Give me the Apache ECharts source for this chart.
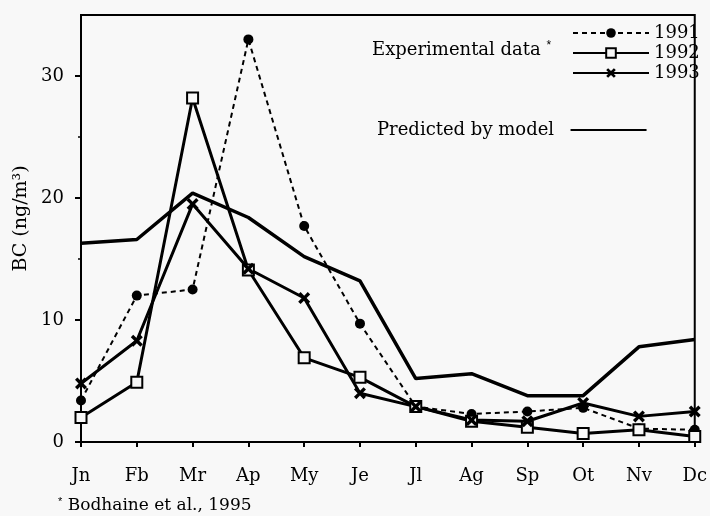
<!DOCTYPE html>
<html>
<head>
<meta charset="utf-8">
<script src="https://cdn.jsdelivr.net/npm/echarts@6/dist/echarts.min.js"></script>
<style>
  html, body { margin: 0; padding: 0; background: #f8f8f8; }
  #chart { width: 710px; height: 516px; }
</style>
</head>
<body>
<div id="chart"></div>
<script>
// months on the x axis
var months = ['Jn', 'Fb', 'Mr', 'Ap', 'My', 'Je', 'Jl', 'Ag', 'Sp', 'Ot', 'Nv', 'Dc'];
// y tick values
var yTicks = [0, 10, 20, 30];
// experimental data (Bodhaine et al., 1995), BC in ng/m3
var bc1991 = [3.4, 12.0, 12.5, 33.0, 17.7, 9.7, 2.9, 2.3, 2.5, 2.8, 1.1, 1.0];
var bc1992 = [2.0, 4.9, 28.2, 14.1, 6.9, 5.3, 2.9, 1.7, 1.2, 0.7, 1.0, 0.45];
var bc1993 = [4.8, 8.3, 19.5, 14.2, 11.8, 4.0, 2.9, 1.8, 1.7, 3.2, 2.1, 2.5];
// predicted by model
var model = [16.3, 16.6, 20.4, 18.4, 15.2, 13.2, 5.2, 5.6, 3.8, 3.8, 7.8, 8.4];

var serif = 'DejaVu Serif';
var crossPath = 'path://M0,2 L2,0 L5,3 L8,0 L10,2 L7,5 L10,8 L8,10 L5,7 L2,10 L0,8 L3,5 Z';

var chart = echarts.init(document.getElementById('chart'));
var option = {
    backgroundColor: '#f8f8f8',
    animation: false,
    textStyle: { fontFamily: serif, color: '#000' },
    grid: {
        left: 81, right: 13, top: 15, bottom: 74,
        show: true, borderColor: '#000', borderWidth: 2
    },
    legend: [
        {
            data: ['1991', '1992', '1993'],
            orient: 'vertical',
            left: 567, top: 19,
            itemWidth: 76, itemHeight: 12, itemGap: 2,
            textStyle: { fontFamily: serif, fontSize: 18, color: '#000' }
        },
        {
            data: ['Predicted by model'],
            align: 'right',
            left: 372, top: 116,
            itemWidth: 76, itemHeight: 12,
            itemStyle: { opacity: 0 },
            formatter: function (name) { return name + '  '; },
            textStyle: { fontFamily: serif, fontSize: 18, color: '#000' }
        }
    ],
    xAxis: {
        type: 'category',
        data: months,
        boundaryGap: false,
        axisLine: { lineStyle: { color: '#000', width: 2 } },
        axisTick: { alignWithLabel: true, length: 5, lineStyle: { color: '#000', width: 2 } },
        axisLabel: { color: '#000', fontFamily: serif, fontSize: 18, margin: 25 }
    },
    yAxis: {
        type: 'value',
        min: 0, max: 35, interval: 10,
        name: 'BC (ng/m³)',
        nameLocation: 'middle',
        nameGap: 48,
        nameTextStyle: { fontFamily: serif, fontSize: 19, color: '#000', padding: [0, 0, 0, 20] },
        splitLine: { show: false },
        axisLine: { show: true, lineStyle: { color: '#000', width: 2 } },
        axisTick: { show: true, length: 6, customValues: yTicks, lineStyle: { color: '#000', width: 2 } },
        minorTick: { show: true, splitNumber: 2, length: 3, lineStyle: { color: '#000', width: 1.5 } },
        axisLabel: { color: '#000', fontFamily: serif, fontSize: 18, margin: 17, customValues: yTicks }
    },
    graphic: [
        {
            type: 'text', left: 372, top: 40,
            style: {
                text: 'Experimental data {s|*}',
                font: '18px "DejaVu Serif"', fill: '#000',
                rich: { s: { fontSize: 12, verticalAlign: 'top', padding: [0, 0, 8, 0] } }
            }
        },
        {
            type: 'text', left: 58, top: 496,
            style: {
                text: '{s|*} Bodhaine et al., 1995',
                font: '17px "DejaVu Serif"', fill: '#000',
                rich: { s: { fontSize: 11, padding: [0, 0, 8, 0] } }
            }
        }
    ],
    series: [
        {
            name: 'Predicted by model', type: 'line', data: model,
            symbol: 'none',
            itemStyle: { color: '#000' },
            lineStyle: { color: '#000', width: 3.5 },
            z: 2
        },
        {
            name: '1991', type: 'line', data: bc1991,
            symbol: 'circle', symbolSize: 10,
            itemStyle: { color: '#000' },
            lineStyle: { color: '#000', width: 2, type: [5, 4] },
            z: 3
        },
        {
            name: '1992', type: 'line', data: bc1992,
            symbol: 'rect', symbolSize: 11,
            itemStyle: { color: '#f8f8f8', borderColor: '#000', borderWidth: 2 },
            lineStyle: { color: '#000', width: 3 },
            z: 4
        },
        {
            name: '1993', type: 'line', data: bc1993,
            symbol: crossPath, symbolSize: 12,
            itemStyle: { color: '#000' },
            lineStyle: { color: '#000', width: 3 },
            z: 4
        }
    ]
};
chart.setOption(option);
</script>
</body>
</html>
